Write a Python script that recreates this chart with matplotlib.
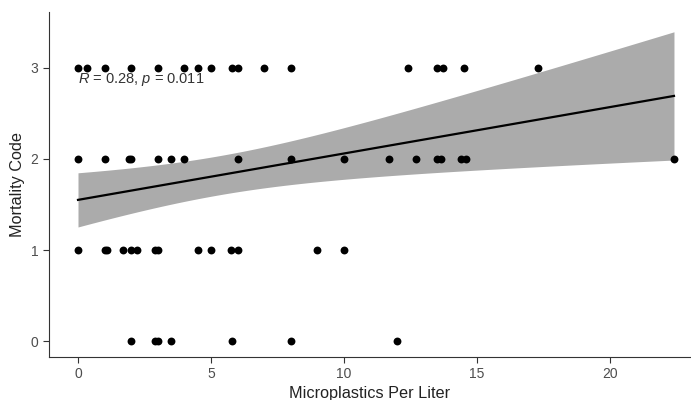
import numpy as np
import matplotlib
matplotlib.use("Agg")
import matplotlib.pyplot as plt

plt.rcParams['font.family'] = ['Liberation Sans', 'DejaVu Sans']
plt.rcParams['mathtext.fontset'] = 'custom'
plt.rcParams['mathtext.it'] = 'Liberation Sans:italic'
plt.rcParams['mathtext.rm'] = 'Liberation Sans'

# microplastics per liter, grouped by mortality code (repeated values overlap)
x_code3 = [0, 0, 0, 0, 0, 0.33, 1.0, 2.0, 3.0, 3.0, 4.0, 4.5, 5.0, 5.8, 6.0, 7.0, 8.0,
           12.4, 12.4, 13.5, 13.5, 13.7, 13.7, 14.5, 14.5, 17.3, 17.3]
x_code2 = [0, 0, 0, 0, 0, 0, 0, 1.0, 1.9, 2.0, 3.0, 3.5, 4.0, 6.0, 8.0, 10.0,
           11.7, 12.7, 13.5, 13.65, 14.4, 14.6, 22.4]
x_code1 = [0, 0, 0, 0, 0, 0, 0, 0, 1.0, 1.0, 1.1, 1.7, 2.0, 2.0, 2.2, 2.9, 3.0, 3.0,
           4.5, 5.0, 5.75, 6.0, 9.0, 10.0]
x_code0 = [2.0, 2.0, 2.9, 3.0, 3.0, 3.5, 5.8, 8.0, 12.0]
codes = [3, 2, 1, 0]

x = np.array(x_code3 + x_code2 + x_code1 + x_code0)
y = np.repeat(codes, [len(x_code3), len(x_code2), len(x_code1), len(x_code0)]).astype(float)

# linear fit with 95% confidence band
n = len(x)
slope, intercept = np.polyfit(x, y, 1)
resid = y - (intercept + slope * x)
s = np.sqrt(np.sum(resid ** 2) / (n - 2))
xs = np.linspace(x.min(), x.max(), 200)
yhat = intercept + slope * xs
se = s * np.sqrt(1 / n + (xs - x.mean()) ** 2 / np.sum((x - x.mean()) ** 2))
tq = 1.99

# overlapping samples draw as one dot
pts = np.unique(np.column_stack([x, y]), axis=0)

fig = plt.figure(figsize=(6.91, 4.0), dpi=100)
ax = fig.add_axes([49 / 691, 43 / 400, 642 / 691, 345 / 400])

ax.fill_between(xs, yhat - tq * se, yhat + tq * se, color='#ababab', lw=0, zorder=1)
ax.plot(xs, yhat, color='black', lw=1.6, zorder=2)
ax.scatter(pts[:, 0], pts[:, 1], s=32, color='black', zorder=3, lw=0)

ax.text(0, 2.865, r'$\it{R}$ = 0.28, $\it{p}$ = 0.011', fontsize=10.5, color='#333333',
        ha='left', va='center')

ax.set_xlim(-1.09, 23.04)
ax.set_ylim(-0.17, 3.61)
ax.set_xticks([0, 5, 10, 15, 20])
ax.set_yticks([0, 1, 2, 3])
ax.set_xlabel('Microplastics Per Liter', fontsize=11.7, color='#222222', labelpad=3)
ax.set_ylabel('Mortality Code', fontsize=11.7, color='#222222')
ax.tick_params(labelsize=10, labelcolor='#4d4d4d', length=4, color='#333333')
for side in ['top', 'right']:
    ax.spines[side].set_visible(False)
for side in ['left', 'bottom']:
    ax.spines[side].set_color('#333333')

fig.savefig('out.png', dpi=100)
